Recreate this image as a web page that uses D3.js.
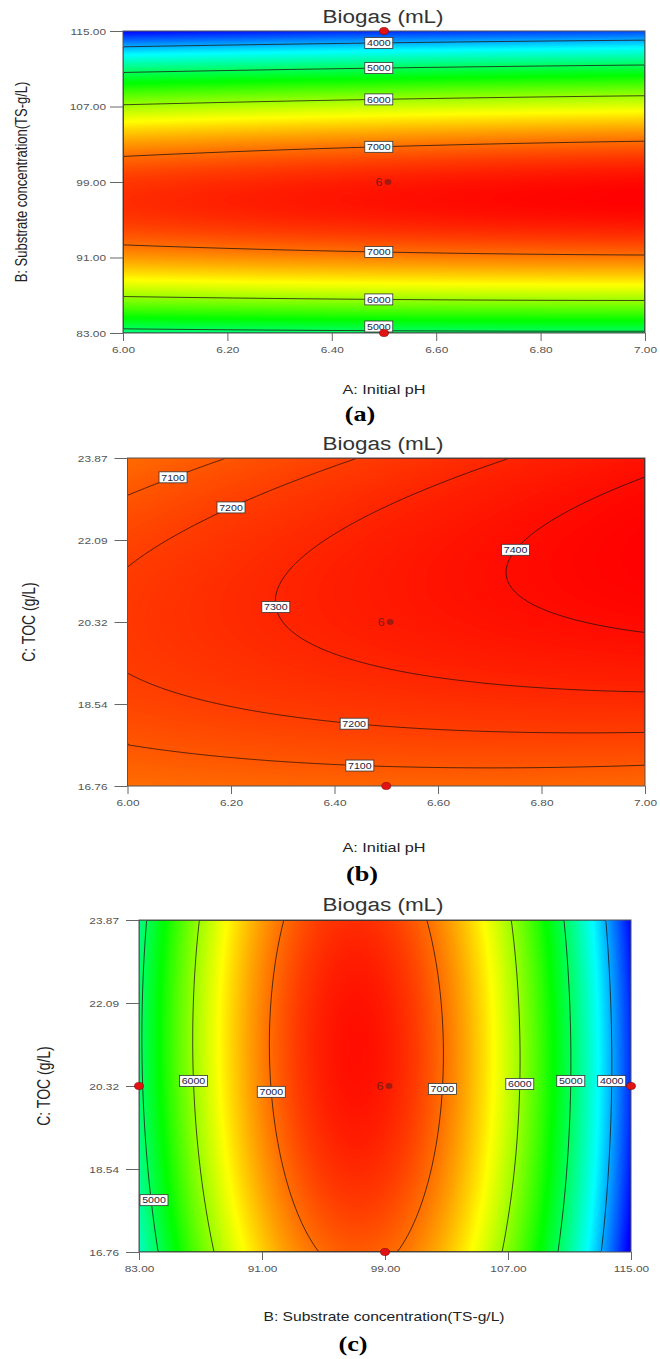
<!DOCTYPE html>
<html><head><meta charset="utf-8">
<script src="https://cdn.jsdelivr.net/npm/d3@7"></script>
<style>body{margin:0;background:#fff} svg{display:block}</style>
</head><body>
<svg id="chart" width="660" height="1359"></svg>
<script>
// ---------------- DATA ----------------
// Fitted quadratic response-surface model in coded units
const factorCenters    = [6.5, 99, 20.315];   // A: Initial pH, B: Substrate conc., C: TOC
const factorHalfRanges = [0.5, 16, 3.555];
// terms: I, A, B, C, A^2, B^2, C^2, AB, AC, BC
const termCoefs = [7342, 95, -725, 89, -25, -3150, -211, 53, 84, -35];

// colour ramp (response value -> colour)
const colorStops = [3300, 4340, 5375, 6410, 7450];
const colorRange = ["#0000ff", "#00ffff", "#00ff00", "#ffff00", "#ff0000"];

// ticks
const phTicks = [6.0, 6.2, 6.4, 6.6, 6.8, 7.0];
const phTickLabels = ["6.00", "6.20", "6.40", "6.60", "6.80", "7.00"];
const tsTicks = [83, 91, 99, 107, 115];
const tsTickLabels = ["83.00", "91.00", "99.00", "107.00", "115.00"];
const tocTicks = [16.76, 18.5375, 20.315, 22.0925, 23.87];
const tocTickLabels = ["16.76", "18.54", "20.32", "22.09", "23.87"];

// contour levels
const levelsA = [4000, 5000, 6000, 7000];
const levelsB = [7100, 7200, 7300, 7400];
const levelsC = [4000, 5000, 6000, 7000];

// contour label anchors: [level, fixed axis ("x"/"y"), fixed value, approx. other value]
const labelsA = [[4000, "x", 6.49, 114], [5000, "x", 6.49, 111], [6000, "x", 6.49, 108], [7000, "x", 6.49, 103],
                 [7000, "x", 6.49, 92], [6000, "x", 6.49, 87], [5000, "x", 6.49, 83.5]];
const labelsB = [[7100, "x", 6.088, 23.5], [7200, "x", 6.2, 22.9], [7300, "y", 20.64, 6.29], [7400, "y", 21.88, 6.74],
                 [7200, "x", 6.438, 18.4], [7100, "x", 6.449, 17.4]];
const labelsC = [[6000, "y", 20.42, 86.5], [7000, "y", 20.19, 91.5], [7000, "y", 20.25, 102.5], [6000, "y", 20.36, 107.5],
                 [5000, "y", 20.42, 110.8], [4000, "y", 20.42, 113.5], [5000, "y", 17.87, 84]];

// design points
const pointsA = [[6.5, 115], [6.5, 83]];
const pointsB = [[6.5, 16.76]];
const pointsC = [[83, 20.315], [115, 20.315], [99, 16.76]];
const centerA = [6.5, 99], centerB = [6.5, 20.315], centerC = [99, 20.315];
const centerReplicates = "6";

// ---------------- RENDER ----------------
const SX = 1.25;
const FONT = "'Liberation Sans', Arial, Helvetica, sans-serif";
const svg = d3.select("#chart");
const defs = svg.append("defs");
const color = d3.scaleLinear().domain(colorStops).range(colorRange).clamp(true);

function model(v) {
  const a = (v[0] - factorCenters[0]) / factorHalfRanges[0];
  const b = (v[1] - factorCenters[1]) / factorHalfRanges[1];
  const c = (v[2] - factorCenters[2]) / factorHalfRanges[2];
  const k = termCoefs;
  return k[0] + k[1]*a + k[2]*b + k[3]*c + k[4]*a*a + k[5]*b*b + k[6]*c*c + k[7]*a*b + k[8]*a*c + k[9]*b*c;
}

const panels = [
  { xVar: 0, yVar: 1, box: [123, 645, 31, 333], xDomain: [6, 7], yDomain: [83, 115],
    xTicks: phTicks, xTickLabels: phTickLabels, yTicks: tsTicks, yTickLabels: tsTickLabels,
    levels: levelsA, labels: labelsA, points: pointsA, center: centerA,
    xTitle: "A: Initial pH", yTitle: "B: Substrate concentration(TS-g/L)", tag: "(a)",
    L: { titleY: 23, yPad: 4, xTitleY: 394, xTitleSize: 13, yTitleX: 27, yTitleSize: 13, tagX: 360, tagY: 421 } },
  { xVar: 0, yVar: 2, box: [127.5, 645, 458, 786], xDomain: [6, 7], yDomain: [16.76, 23.87],
    xTicks: phTicks, xTickLabels: phTickLabels, yTicks: tocTicks, yTickLabels: tocTickLabels,
    levels: levelsB, labels: labelsB, points: pointsB, center: centerB,
    xTitle: "A: Initial pH", yTitle: "C: TOC (g/L)", tag: "(b)",
    L: { titleY: 450, yPad: 7, xTitleY: 852, xTitleSize: 13, yTitleX: 35, yTitleSize: 14, tagX: 362, tagY: 881 } },
  { xVar: 1, yVar: 2, box: [139, 631, 920, 1252], xDomain: [83, 115], yDomain: [16.76, 23.87],
    xTicks: tsTicks, xTickLabels: tsTickLabels, yTicks: tocTicks, yTickLabels: tocTickLabels,
    levels: levelsC, labels: labelsC, points: pointsC, center: centerC,
    xTitle: "B: Substrate concentration(TS-g/L)", yTitle: "C: TOC (g/L)", tag: "(c)",
    L: { titleY: 911, yPad: 7, xTitleY: 1321, xTitleSize: 12.5, yTitleX: 50, yTitleSize: 14, tagX: 353, tagY: 1351 } }
];

function stext(g, x, y, str, size, opts = {}) {
  return g.append("text")
    .attr("transform", `translate(${x},${y}) scale(${SX},1)` + (opts.rotate ? ` rotate(${opts.rotate})` : ""))
    .attr("text-anchor", opts.anchor || "middle")
    .attr("font-family", opts.family || FONT)
    .attr("font-size", size)
    .attr("font-weight", opts.weight || "normal")
    .attr("fill", opts.fill || "#222")
    .text(str);
}

panels.forEach((p, idx) => {
  const [px0, px1, py0, py1] = p.box;
  const W = px1 - px0, H = py1 - py0;
  const xs = d3.scaleLinear().domain(p.xDomain).range([px0, px1]);
  const ys = d3.scaleLinear().domain(p.yDomain).range([py1, py0]);
  const f = (xv, yv) => { const v = factorCenters.slice(); v[p.xVar] = xv; v[p.yVar] = yv; return model(v); };

  const n = Math.round(W / 2), m = Math.round(H / 2);
  const values = new Float64Array(n * m);
  for (let j = 0; j < m; j++) for (let i = 0; i < n; i++) {
    const xv = xs.invert(px0 + (i + 0.5) / n * W);
    const yv = ys.invert(py0 + (j + 0.5) / m * H);
    values[i + j * n] = f(xv, yv);
  }
  const proj = d3.geoTransform({ point(x, y) { this.stream.point(px0 + x / n * W, py0 + y / m * H); } });
  const path = d3.geoPath(proj);

  const g = svg.append("g");
  const clipId = "clip" + idx;
  defs.append("clipPath").attr("id", clipId).append("rect").attr("x", px0).attr("y", py0).attr("width", W).attr("height", H);
  const plot = g.append("g").attr("clip-path", `url(#${clipId})`);

  const [vmin, vmax] = d3.extent(values);
  const step = 8;
  const thr = d3.range(Math.ceil(vmin / step) * step, vmax, step);
  plot.append("rect").attr("x", px0).attr("y", py0).attr("width", W).attr("height", H).attr("fill", color(vmin));
  plot.selectAll("path.band").data(d3.contours().size([n, m]).thresholds(thr)(values)).join("path")
    .attr("class", "band").attr("d", path).attr("fill", d => color(d.value + step / 2));
  plot.selectAll("path.iso").data(d3.contours().size([n, m]).thresholds(p.levels)(values)).join("path")
    .attr("class", "iso").attr("d", path).attr("fill", "none")
    .attr("stroke", "#1e1410").attr("stroke-opacity", 0.85).attr("stroke-width", 0.9);

  // frame
  g.append("rect").attr("x", px0).attr("y", py0).attr("width", W).attr("height", H)
    .attr("fill", "none").attr("stroke", "#555").attr("stroke-width", 1);

  // axes
  const yAxis = d3.axisLeft(ys).tickValues(p.yTicks).tickFormat((d, i) => p.yTickLabels[i]).tickSize(13).tickPadding(p.L.yPad);
  const ya = g.append("g").attr("transform", `translate(${px0},0)`).call(yAxis)
    .attr("font-family", FONT).attr("font-size", 9.5);
  ya.select(".domain").remove();
  ya.selectAll(".tick line").attr("stroke", "#666");
  ya.selectAll(".tick text").attr("x", -(13 + p.L.yPad) / SX).attr("transform", `scale(${SX},1)`).attr("fill", "#555");

  const xAxis = d3.axisBottom(xs).tickValues(p.xTicks).tickFormat((d, i) => p.xTickLabels[i]).tickSize(8).tickPadding(5);
  const xa = g.append("g").attr("transform", `translate(0,${py1})`).call(xAxis)
    .attr("font-family", FONT).attr("font-size", 9.5);
  xa.select(".domain").remove();
  xa.selectAll(".tick line").attr("stroke", "#666");
  xa.selectAll(".tick text").attr("transform", `scale(${SX},1)`).attr("fill", "#555");

  // contour labels
  p.labels.forEach(([level, mode, fixed, near]) => {
    const dom = mode === "x" ? p.yDomain : p.xDomain;
    const N = 800; let best = null, prev = null;
    for (let k = 0; k <= N; k++) {
      const v = dom[0] + (dom[1] - dom[0]) * k / N;
      const d = (mode === "x" ? f(fixed, v) : f(v, fixed)) - level;
      if (prev && Math.sign(d) !== Math.sign(prev.d)) {
        const root = prev.v + prev.d / (prev.d - d) * (v - prev.v);
        if (best === null || Math.abs(root - near) < Math.abs(best - near)) best = root;
      }
      prev = { v, d };
    }
    if (best === null) return;
    const dx = mode === "x" ? fixed : best, dy = mode === "x" ? best : fixed;
    const bw = 28, bh = 11;
    let cx = xs(dx), cy = ys(dy);
    cx = Math.max(px0 + bw / 2 + 1, Math.min(px1 - bw / 2 - 1, cx));
    cy = Math.max(py0 + bh / 2 + 1, Math.min(py1 - bh / 2 - 1, cy));
    g.append("rect").attr("x", cx - bw / 2).attr("y", cy - bh / 2).attr("width", bw).attr("height", bh)
      .attr("fill", "#fff").attr("stroke", "#333").attr("stroke-width", 0.8);
    stext(g, cx, cy + 3.2, String(level), 8.5, { fill: "#1c2440" });
  });

  // centre point (replicates) marker
  const ccx = xs(p.center[0]), ccy = ys(p.center[1]);
  stext(g, ccx - 5, ccy + 3.5, centerReplicates, 10, { fill: "#7a1a14" });
  g.append("ellipse").attr("cx", ccx + 4).attr("cy", ccy).attr("rx", 3.5).attr("ry", 3)
    .attr("fill", "#8a1c14").attr("fill-opacity", 0.8);

  // design points
  g.selectAll("ellipse.pt").data(p.points).join("ellipse").attr("class", "pt")
    .attr("cx", d => xs(d[0])).attr("cy", d => ys(d[1])).attr("rx", 4.5).attr("ry", 3.6)
    .attr("fill", "#e01212").attr("stroke", "#8a0000").attr("stroke-width", 0.6);

  // titles
  stext(svg, 383, p.L.titleY, "Biogas (mL)", 18, { fill: "#333" });
  stext(svg, 384, p.L.xTitleY, p.xTitle, p.L.xTitleSize, { fill: "#222" });
  stext(svg, p.L.yTitleX, (py0 + py1) / 2, p.yTitle, p.L.yTitleSize, { fill: "#222", rotate: -90 });
  stext(svg, p.L.tagX, p.L.tagY, p.tag, 21, { fill: "#000", weight: "bold", family: "'Liberation Serif', 'Times New Roman', serif" });
});
</script>
</body></html>
